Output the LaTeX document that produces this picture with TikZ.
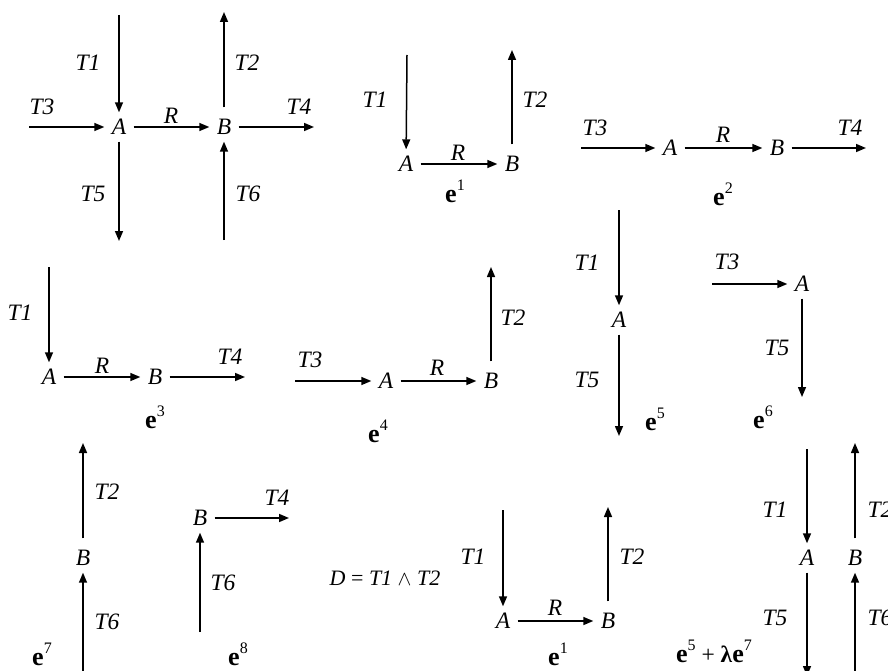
\documentclass[tikz,border=0pt]{standalone}
\usepackage{fontspec}
\setmainfont{Liberation Serif}
\usetikzlibrary{arrows.meta}
\newcommand{\evlab}[1]{{\fontsize{26}{28}\selectfont\bfseries e}\raisebox{0.5em}{\fontsize{16}{17}\selectfont #1}}
\tikzset{
  vx/.style={circle, inner sep=0pt, minimum size=29pt, font=\fontsize{23.5}{26}\selectfont\itshape},
  lbl/.style={inner sep=0pt, font=\fontsize{23.5}{26}\selectfont\itshape},
  elab/.style={inner sep=0pt, anchor=base, font=\fontsize{23.5}{26}\selectfont},
  arr/.style={-{Triangle[length=10pt,width=8pt]}, line width=1.5pt},
  up/.style={arr, shorten <=5pt}
}
\begin{document}
\begin{tikzpicture}[x=1pt,y=-1pt]
\clip (0,0) rectangle (888,671);
% ---------- panel 0 ----------
\node[vx] (A0) at (119,127) {A};
\node[vx] (B0) at (224,127) {B};
\coordinate (p0t1) at (119,15);
\coordinate (p0t2) at (224,12);
\coordinate (p0t3) at (29,127);
\coordinate (p0t4) at (314,127);
\coordinate (p0t5) at (119,241);
\coordinate (p0t6) at (224,240);
\draw[arr] (p0t1) -- (A0);
\draw[up] (B0) -- (p0t2);
\draw[arr] (p0t3) -- (A0);
\draw[arr] (A0) -- (B0);
\draw[arr] (B0) -- (p0t4);
\draw[arr] (A0) -- (p0t5);
\draw[arr] (p0t6) -- (B0);
\node[lbl] (l0t1) at (88,63) {T1};
\node[lbl] (l0t2) at (247,63) {T2};
\node[lbl] (l0t3) at (42,107) {T3};
\node[lbl] (l0r) at (171,116) {R};
\node[lbl] (l0t4) at (299,107) {T4};
\node[lbl] (l0t5) at (93,194) {T5};
\node[lbl] (l0t6) at (248,194) {T6};
% ---------- e1 ----------
\node[vx] (A1) at (406,164) {A};
\node[vx] (B1) at (512,164) {B};
\coordinate (p1t1) at (407,55);
\coordinate (p1t2) at (512,50);
\draw[arr] (p1t1) -- (A1);
\draw[arr] (A1) -- (B1);
\draw[up] (B1) -- (p1t2);
\node[lbl] (l1t1) at (375,100) {T1};
\node[lbl] (l1t2) at (535,100) {T2};
\node[lbl] (l1r) at (458,153) {R};
\node[elab] (e1) at (455,202) {\evlab{1}};
% ---------- e2 ----------
\node[vx] (A2) at (670,148) {A};
\node[vx] (B2) at (777,148) {B};
\coordinate (p2t3) at (581,148);
\coordinate (p2t4) at (866,148);
\draw[arr] (p2t3) -- (A2);
\draw[arr] (A2) -- (B2);
\draw[arr] (B2) -- (p2t4);
\node[lbl] (l2t3) at (595,128) {T3};
\node[lbl] (l2r) at (723,135) {R};
\node[lbl] (l2t4) at (850,128) {T4};
\node[elab] (e2) at (723,205) {\evlab{2}};
% ---------- e5 ----------
\node[vx] (A5) at (619,320) {A};
\coordinate (p5t1) at (619,210);
\coordinate (p5t5) at (619,436);
\draw[arr] (p5t1) -- (A5);
\draw[arr] (A5) -- (p5t5);
\node[lbl] (l5t1) at (587,263) {T1};
\node[lbl] (l5t5) at (587,380) {T5};
\node[elab] (e5) at (655,430) {\evlab{5}};
% ---------- e6 ----------
\node[vx] (A6) at (802,284) {A};
\coordinate (p6t3) at (712,284);
\coordinate (p6t5) at (802,397);
\draw[arr] (p6t3) -- (A6);
\draw[arr] (A6) -- (p6t5);
\node[lbl] (l6t3) at (727,262) {T3};
\node[lbl] (l6t5) at (777,348) {T5};
\node[elab] (e6) at (763,428) {\evlab{6}};
% ---------- e3 ----------
\node[vx] (A3) at (49,377) {A};
\node[vx] (B3) at (155,377) {B};
\coordinate (p3t1) at (49,267);
\coordinate (p3t4) at (245,377);
\draw[arr] (p3t1) -- (A3);
\draw[arr] (A3) -- (B3);
\draw[arr] (B3) -- (p3t4);
\node[lbl] (l3t1) at (20,313) {T1};
\node[lbl] (l3r) at (102,366) {R};
\node[lbl] (l3t4) at (230,357) {T4};
\node[elab] (e3) at (155,428) {\evlab{3}};
% ---------- e4 ----------
\node[vx] (A4) at (386,381) {A};
\node[vx] (B4) at (491,381) {B};
\coordinate (p4t3) at (295,381);
\coordinate (p4t2) at (491,267);
\draw[arr] (p4t3) -- (A4);
\draw[arr] (A4) -- (B4);
\draw[up] (B4) -- (p4t2);
\node[lbl] (l4t3) at (310,360) {T3};
\node[lbl] (l4r) at (437,368) {R};
\node[lbl] (l4t2) at (513,318) {T2};
\node[elab] (e4) at (378,442) {\evlab{4}};
% ---------- e7 ----------
\node[vx] (B7) at (83,558) {B};
\coordinate (p7t2) at (83,443);
\coordinate (p7t6) at (83,690);
\draw[up] (B7) -- (p7t2);
\draw[arr] (p7t6) -- (B7);
\node[lbl] (l7t2) at (107,492) {T2};
\node[lbl] (l7t6) at (107,622) {T6};
\node[elab] (e7) at (42,665) {\evlab{7}};
% ---------- e8 ----------
\node[vx] (B8) at (200,518) {B};
\coordinate (p8t4) at (289,518);
\coordinate (p8t6) at (200,632);
\draw[arr] (B8) -- (p8t4);
\draw[arr] (p8t6) -- (B8);
\node[lbl] (l8t4) at (277,498) {T4};
\node[lbl] (l8t6) at (223,583) {T6};
\node[elab] (e8) at (238,665) {\evlab{8}};
% ---------- D panel ----------
\node[inner sep=0pt, font=\fontsize{22}{25}\selectfont] (dform) at (385,578) {\textit{D} = \textit{T1} $\wedge$ \textit{T2}};
\node[vx] (A9) at (503,621) {A};
\node[vx] (B9) at (608,621) {B};
\coordinate (p9t1) at (503,510);
\coordinate (p9t2) at (608,507);
\draw[arr] (p9t1) -- (A9);
\draw[arr] (A9) -- (B9);
\draw[up] (B9) -- (p9t2);
\node[lbl] (l9t1) at (473,557) {T1};
\node[lbl] (l9r) at (555,608) {R};
\node[lbl] (l9t2) at (632,557) {T2};
\node[elab] (e9) at (558,665) {\evlab{1}};
% ---------- e5 + lambda e7 ----------
\node[vx] (A10) at (807,558) {A};
\node[vx] (B10) at (855,558) {B};
\coordinate (p10t1) at (807,449);
\coordinate (p10t5) at (807,676);
\coordinate (p10t2) at (855,443);
\coordinate (p10t6) at (855,690);
\draw[arr] (p10t1) -- (A10);
\draw[arr] (A10) -- (p10t5);
\draw[up] (B10) -- (p10t2);
\draw[arr] (p10t6) -- (B10);
\node[lbl] (l10t1) at (775,510) {T1};
\node[lbl] (l10t5) at (775,618) {T5};
\node[lbl] (l10t2) at (880,510) {T2};
\node[lbl] (l10t6) at (880,618) {T6};
\node[elab] (e10) at (714,662) {\evlab{5} + {\bfseries λ}\evlab{7}};
\end{tikzpicture}
\end{document}
